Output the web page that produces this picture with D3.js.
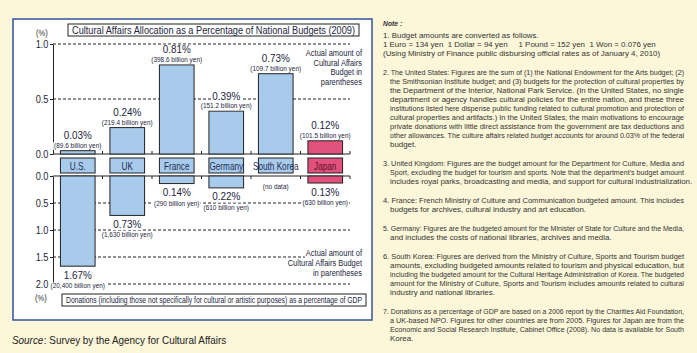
<!doctype html>
<html lang="en">
<head>
<meta charset="UTF-8">
<title>Cultural Affairs Allocation</title>
<script src="https://cdn.jsdelivr.net/npm/d3@7"></script>
<style>
  body { margin: 0; background: #fcf7d8; }
  svg { display: block; }
  text { font-family: 'Liberation Sans', Arial, sans-serif; fill: #1e2540; }
</style>
</head>
<body>
<div class="canvas"></div>
<script>
  // data
  const countries = ['U.S.', 'UK', 'France', 'Germany', 'South Korea', 'Japan'];
  const budgetPct = [0.03, 0.24, 0.81, 0.39, 0.73, 0.12];
  const budgetYen = ['89.6', '219.4', '398.6', '151.2', '109.7', '101.5'];
  const donationPct = [1.67, 0.73, 0.14, 0.22, null, 0.13];
  const donationYen = ['20,400', '1,630', '290', '610', null, '630'];
  const topTicks = [0, 0.5, 1.0];
  const bottomTicks = [0, 0.5, 1.0, 1.5, 2.0];

  const title = 'Cultural Affairs Allocation as a Percentage of National Budgets (2009)';
  const legendText = 'Donations (including those not specifically for cultural or artistic purposes) as a percentage of GDP';
  const topNote = ['Actual amount of', 'Cultural Affairs', 'Budget in', 'parentheses'];
  const bottomNote = ['Actual amount of', 'Cultural Affairs Budget', 'in parentheses'];

  const notes = [
    {justify: false, lines: [
      '1. Budget amounts are converted as follows.',
      '1 Euro = 134 yen  1 Dollar = 94 yen     1 Pound = 152 yen  1 Won = 0.076 yen',
      '(Using Ministry of Finance public disbursing official rates as of January 4, 2010)']},
    {justify: true, lines: [
      '2. The United States: Figures are the sum of (1) the National Endowment for the Arts budget; (2)',
      'the Smithsonian Institute budget; and (3) budgets for the protection of cultural properties by',
      'the Department of the Interior, National Park Service. (In the United States, no single',
      'department or agency handles cultural policies for the entire nation, and these three',
      'institutions listed here dispense public funding related to cultural promotion and protection of',
      'cultural properties and artifacts.) In the United States, the main motivations to encourage',
      'private donations with little direct assistance from the government are tax deductions and',
      'other allowances. The culture affairs related budget accounts for around 0.03% of the federal',
      'budget.']},
    {justify: true, lines: [
      '3.  United Kingdom: Figures are the budget amount for the Department for Culture, Media and',
      'Sport, excluding the budget for tourism and sports. Note that the department\u2019s budget amount',
      'includes royal parks, broadcasting and media, and support for cultural industrialization.']},
    {justify: true, lines: [
      '4. France: French Ministry of Culture and Communication budgeted amount. This includes',
      'budgets for archives, cultural industry and art education.']},
    {justify: true, lines: [
      '5. Germany: Figures are the budgeted amount for the Minister of State for Culture and the Media,',
      'and includes the costs of national libraries, archives and media.']},
    {justify: true, lines: [
      '6. South Korea: Figures are derived from the Ministry of Culture, Sports and Tourism budget',
      'amounts, excluding budgeted amounts related to tourism and physical education, but',
      'including the budgeted amount for the Cultural Heritage Administration of Korea. The budgeted',
      'amount for the Ministry of Culture, Sports and Tourism includes amounts related to cultural',
      'industry and national libraries.']},
    {justify: true, lines: [
      '7. Donations as a percentage of GDP are based on a 2006 report by the Charities Aid Foundation,',
      'a UK-based NPO. Figures for other countries are from 2005. Figures for Japan are from the',
      'Economic and Social Research Institute, Cabinet Office (2008). No data is available for South',
      'Korea.']}
  ];

  const blue = '#a8cbec';
  const pink = '#e2517d';
  const ink = '#222';

  const svg = d3.select('.canvas').append('svg')
    .attr('width', 697)
    .attr('height', 353);

  // the original uses a condensed face: squeeze each text horizontally
  function condense(sel, k) {
    sel.each(function () {
      const w = this.getComputedTextLength();
      d3.select(this).attr('textLength', w * k).attr('lengthAdjust', 'spacingAndGlyphs');
    });
    return sel;
  }

  svg.append('rect').attr('width', 697).attr('height', 353).attr('fill', '#fcf7d8');

  // chart frame
  svg.append('rect')
    .attr('x', 13).attr('y', 19).attr('width', 359).attr('height', 301)
    .attr('fill', '#fff').attr('stroke', '#3552a0').attr('stroke-width', 1.5);

  // title box
  svg.append('rect')
    .attr('x', 68).attr('y', 24).attr('width', 291).attr('height', 12)
    .attr('fill', '#fff').attr('stroke', ink);
  svg.append('text')
    .attr('x', 213.5).attr('y', 34)
    .attr('text-anchor', 'middle')
    .attr('font-size', 11)
    .attr('textLength', 283).attr('lengthAdjust', 'spacingAndGlyphs')
    .text(title);

  const rows = countries.map((c, i) => ({
    c, b: budgetPct[i], by: budgetYen[i], d: donationPct[i], dy: donationYen[i]
  }));

  const x = d3.scaleBand()
    .domain(countries)
    .range([53, 350])
    .paddingInner(0.3)
    .paddingOuter(0.15);
  const bw = x.bandwidth();
  const gapHalf = x.step() * 0.3 / 2;

  const yTop = d3.scaleLinear().domain([0, 1]).range([154, 44]);
  const yBot = d3.scaleLinear().domain([0, 2]).range([176, 284]);

  // dashed grid
  svg.append('g').selectAll('line')
    .data(topTicks.filter(t => t > 0))
    .join('line')
    .attr('x1', 53).attr('x2', 350)
    .attr('y1', d => yTop(d)).attr('y2', d => yTop(d))
    .attr('stroke', ink).attr('stroke-dasharray', '3,2');
  svg.append('g').selectAll('line')
    .data(bottomTicks.filter(t => t > 0))
    .join('line')
    .attr('x1', 53).attr('x2', 350)
    .attr('y1', d => yBot(d)).attr('y2', d => yBot(d))
    .attr('stroke', ink).attr('stroke-dasharray', '3,2');

  // y axes
  function styleAxis(g) {
    g.attr('font-family', null).attr('font-size', null);
    g.selectAll('path, line').attr('stroke', ink);
    g.selectAll('text').attr('fill', '#333').attr('font-size', 10.5).call(condense, 0.88);
  }
  svg.append('g')
    .attr('transform', 'translate(53,0)')
    .call(d3.axisLeft(yTop).tickValues(topTicks).tickSize(3).tickSizeOuter(0)
      .tickPadding(1.5).tickFormat(d3.format('.1f')))
    .call(styleAxis);
  svg.append('g')
    .attr('transform', 'translate(53,0)')
    .call(d3.axisLeft(yBot).tickValues(bottomTicks).tickSize(3).tickSizeOuter(0)
      .tickPadding(1.5).tickFormat(d3.format('.1f')))
    .call(styleAxis);

  // baselines with small ticks between categories
  [[yTop(0), -3], [yBot(0), 3]].forEach(([y0, dir]) => {
    svg.append('line')
      .attr('x1', 53).attr('x2', 350).attr('y1', y0).attr('y2', y0)
      .attr('stroke', ink);
    svg.append('g').selectAll('line')
      .data(countries)
      .join('line')
      .attr('x1', d => x(d) + bw + gapHalf).attr('x2', d => x(d) + bw + gapHalf)
      .attr('y1', y0).attr('y2', y0 + dir)
      .attr('stroke', ink);
  });

  // bars
  svg.append('g').selectAll('rect')
    .data(rows)
    .join('rect')
    .attr('x', d => x(d.c))
    .attr('y', d => yTop(d.b))
    .attr('width', bw)
    .attr('height', d => yTop(0) - yTop(d.b))
    .attr('fill', d => d.c === 'Japan' ? pink : blue)
    .attr('stroke', ink);

  svg.append('g').selectAll('rect')
    .data(rows.filter(d => d.d != null))
    .join('rect')
    .attr('x', d => x(d.c))
    .attr('y', yBot(0))
    .attr('width', bw)
    .attr('height', d => yBot(d.d) - yBot(0))
    .attr('fill', d => d.c === 'Japan' ? pink : blue)
    .attr('stroke', ink);

  // label with white backing so the dashed grid stops behind it
  function label(px, y, str, size, k, anchor) {
    anchor = anchor || 'middle';
    const g = svg.append('g');
    const t = g.append('text')
      .attr('x', px).attr('y', y)
      .attr('text-anchor', anchor)
      .attr('font-size', size)
      .text(str);
    condense(t, k);
    const w = +t.attr('textLength');
    const x0 = anchor === 'middle' ? px - w / 2 : anchor === 'end' ? px - w : px;
    g.insert('rect', 'text')
      .attr('x', x0 - 1).attr('y', y - size * 0.74 - 0.5)
      .attr('width', w + 2).attr('height', size * 0.74 + 2.5)
      .attr('fill', '#fff');
    return t;
  }

  rows.forEach(d => {
    const cx = x(d.c) + bw / 2;
    const top = yTop(d.b);
    label(cx, top - 11.5, d.b.toFixed(2) + '%', 11, 0.9);
    label(cx, top - 2.8, `(${d.by} billion yen)`, 7, 0.92);
    if (d.d == null) {
      label(cx, yBot(0) + 12.5, '(no data)', 7, 0.92);
    } else {
      const bot = yBot(d.d);
      label(cx, bot + 12.5, d.d.toFixed(2) + '%', 11, 0.9);
      label(cx, bot + 22, `(${d.dy} billion yen)`, 7, 0.92);
    }
  });

  // category boxes
  const cats = svg.append('g').selectAll('g')
    .data(rows)
    .join('g');
  cats.append('rect')
    .attr('x', d => x(d.c)).attr('y', 158)
    .attr('width', bw).attr('height', 15)
    .attr('fill', d => d.c === 'Japan' ? pink : blue)
    .attr('stroke', ink);
  cats.append('text')
    .attr('x', d => x(d.c) + bw / 2).attr('y', 169.5)
    .attr('text-anchor', 'middle')
    .attr('font-size', 10.5)
    .style('fill', d => d.c === 'Japan' ? '#5a1028' : '#1f2d55')
    .text(d => d.c)
    .call(condense, 0.78);

  // side notes inside the chart
  topNote.forEach((s, i) => label(362, 56 + i * 9.7, s, 8.5, 0.88, 'end'));
  bottomNote.forEach((s, i) => label(362, 256 + i * 10, s, 8.5, 0.88, 'end'));

  // (%) units
  svg.append('text').attr('x', 42).attr('y', 36).attr('text-anchor', 'middle')
    .attr('font-size', 9.5).style('fill', '#333').text('(%)').call(condense, 0.8);
  svg.append('text').attr('x', 41).attr('y', 300.5).attr('text-anchor', 'middle')
    .attr('font-size', 9.5).style('fill', '#333').text('(%)').call(condense, 0.8);

  // legend box for the lower chart
  svg.append('rect')
    .attr('x', 62).attr('y', 294).attr('width', 304).attr('height', 12)
    .attr('fill', '#fff').attr('stroke', ink);
  svg.append('text')
    .attr('x', 214).attr('y', 303.3)
    .attr('text-anchor', 'middle')
    .attr('font-size', 9.5)
    .attr('textLength', 296).attr('lengthAdjust', 'spacingAndGlyphs')
    .text(legendText);

  // source line
  const srcHead = svg.append('text').attr('x', 12).attr('y', 344).attr('font-size', 11.5)
    .attr('font-style', 'italic').style('fill', '#222').text('Source')
    .call(condense, 0.86);
  svg.append('text')
    .attr('x', 12 + +srcHead.attr('textLength') + 0.5).attr('y', 344).attr('font-size', 11.5)
    .style('fill', '#222').text(': Survey by the Agency for Cultural Affairs')
    .call(condense, 0.86);

  // notes panel on the right
  const notesX = 383, indentX = 390, notesRight = 684;
  const noteSize = 7.9;
  const ng = svg.append('g');
  ng.append('text').attr('x', notesX).attr('y', 25.5).attr('font-size', 8)
    .attr('font-weight', 'bold').attr('font-style', 'italic')
    .style('fill', '#333').text('Note :')
    .call(condense, 0.85);

  // justify a line by spreading its words, like the printed notes
  const probe = ng.append('text').attr('font-size', noteSize).attr('x', -999).attr('y', -999);
  function wordWidth(w) {
    probe.text(w);
    return probe.node().getComputedTextLength();
  }
  function justifiedLine(line, x0, y, width) {
    const words = line.split(/\s+/);
    const widths = words.map(wordWidth);
    const gap = (width - d3.sum(widths)) / (words.length - 1);
    const t = ng.append('text').attr('y', y).attr('font-size', noteSize).style('fill', '#333');
    if (gap < 1) {
      t.attr('x', x0).text(line).attr('textLength', width).attr('lengthAdjust', 'spacingAndGlyphs');
      return;
    }
    let cx = x0;
    words.forEach((w, i) => {
      t.append('tspan').attr('x', cx).text(w);
      cx += widths[i] + gap;
    });
  }

  let yy = 37.5;
  notes.forEach((para, pi) => {
    para.lines.forEach((line, li) => {
      const xx = (pi === 0 || li === 0) ? notesX : indentX;
      if (para.justify && li < para.lines.length - 1) {
        justifiedLine(line, xx, yy, notesRight - xx);
      } else {
        ng.append('text')
          .attr('x', xx).attr('y', yy)
          .attr('font-size', noteSize)
          .style('fill', '#333')
          .style('white-space', 'pre')
          .text(line);
      }
      yy += 9;
    });
    yy += 10;
  });
  probe.remove();
</script>
</body>
</html>
